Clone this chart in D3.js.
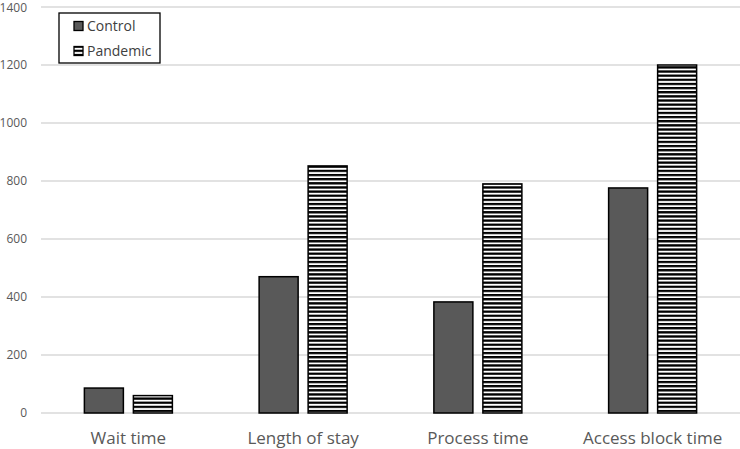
<!DOCTYPE html>
<html><head><meta charset="utf-8">
<script src="https://cdn.jsdelivr.net/npm/d3@7"></script>
<style>body{margin:0;background:#fff}svg{display:block;font-family:"Open Sans","Liberation Sans",sans-serif}</style>
</head><body><svg id="c" width="740" height="449"></svg>
<script>
const categories = ["Wait time","Length of stay","Process time","Access block time"];
const seriesNames = ["Control","Pandemic"];
const controlValues = [86, 470, 383, 776];
const pandemicValues = [60, 852, 790, 1200];
const yTicks = [0,200,400,600,800,1000,1200,1400];

const svg = d3.select("#c");
const m = {l:41, r:0, t:7, b:36};
const W = 740, H = 449;
const x = d3.scaleBand().domain(categories).range([m.l, W - m.r]);
const y = d3.scaleLinear().domain([0,1400]).range([H - m.b, m.t]);

const defs = svg.append("defs");
const pat = defs.append("pattern").attr("id","stripes").attr("patternUnits","userSpaceOnUse")
  .attr("width",8).attr("height",4.14);
pat.append("rect").attr("width",8).attr("height",4.14).attr("fill","#fff");
pat.append("rect").attr("y",0).attr("width",8).attr("height",2.3).attr("fill","#000");

// gridlines
svg.append("g").selectAll("line").data(yTicks).join("line")
  .attr("x1", m.l).attr("x2", W).attr("y1", d=>y(d)).attr("y2", d=>y(d))
  .attr("stroke","#d9d9d9").attr("stroke-width",1.3);

// y labels
svg.append("g").selectAll("text").data(yTicks).join("text")
  .attr("x", 27).attr("y", d=>Math.max(y(d), 8)).attr("dy","0.35em").attr("text-anchor","end")
  .attr("font-size",12).attr("fill","#595959").text(d=>d);

// x labels
svg.append("g").selectAll("text").data(categories).join("text")
  .attr("x", d=>x(d)+x.bandwidth()/2).attr("y", 444).attr("text-anchor","middle")
  .attr("font-size",17).attr("fill","#595959").text(d=>d);

const bw = 39, gap = 10;
const data = categories.map((c,i)=>({c, v:[controlValues[i], pandemicValues[i]]}));
const g = svg.append("g");
data.forEach(d=>{
  const cx = x(d.c) + x.bandwidth()/2;
  d.v.forEach((v,j)=>{
    const x0 = j===0 ? cx - gap/2 - bw : cx + gap/2;
    g.append("rect").attr("x", x0).attr("y", y(v)).attr("width", bw).attr("height", y(0)-y(v))
      .attr("fill", j===0 ? "#595959" : "url(#stripes)")
      .attr("stroke","#000").attr("stroke-width",1.5);
  });
});

// legend
const lg = svg.append("g");
lg.append("rect").attr("x",59).attr("y",13).attr("width",101).attr("height",50)
  .attr("fill","#fff").attr("stroke","#000").attr("stroke-width",1.3);
seriesNames.forEach((s,i)=>{
  const yy = 26 + i*25;
  lg.append("rect").attr("x",74).attr("y",yy-4.5).attr("width",9).attr("height",9)
    .attr("fill", i===0 ? "#595959" : "url(#stripes)").attr("stroke","#000").attr("stroke-width",1.3);
  lg.append("text").attr("x",87).attr("y",yy).attr("dy","0.35em").attr("font-size",14)
    .attr("fill","#404040").text(s);
});
</script></body></html>
